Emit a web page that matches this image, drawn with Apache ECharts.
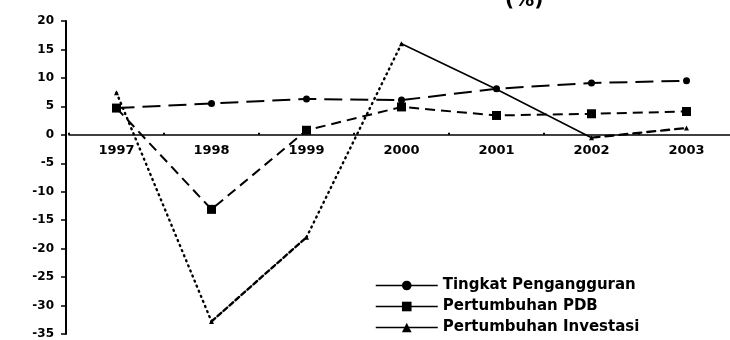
<!DOCTYPE html>
<html>
<head>
<meta charset="utf-8">
<script src="https://cdn.jsdelivr.net/npm/echarts@6/dist/echarts.min.js"></script>
<style>
  html, body { margin: 0; padding: 0; background: #fff; }
  #chart { width: 730px; height: 340px; }
</style>
</head>
<body>
<div id="chart"></div>
<script>
// Years on the horizontal axis
const years = ['1997', '1998', '1999', '2000', '2001', '2002', '2003'];

// Series values (%)
const unemployment = [4.7, 5.5, 6.3, 6.1, 8.1, 9.1, 9.5];
const gdpGrowth = [4.7, -13.1, 0.8, 4.9, 3.4, 3.7, 4.1];
const investmentGrowth = [7.4, -32.8, -18.0, 16.0, 8.0, -0.5, 1.2];

const seriesNames = ['Tingkat Pengangguran', 'Pertumbuhan PDB', 'Pertumbuhan Investasi'];

// Value axis range and step
const yMin = -35, yMax = 20, yStep = 5;

// Stroke pattern of each investment segment between consecutive years
const investmentSegmentDash = [[1, 4.5], [5, 3], [1, 4.5], 'solid', 'solid', [8, 6]];

const FONT = 'DejaVu Sans';
const INK = '#000';

// Plot area
const GRID_TOP = 21, GRID_HEIGHT = 313;
// Distance from the bottom of the plot area up to the zero line
const zeroLift = GRID_HEIGHT * (0 - yMin) / (yMax - yMin);

const chart = echarts.init(document.getElementById('chart'), null, { renderer: 'canvas' });

// One line piece per pair of years, so each piece keeps its own stroke pattern
const investmentSegments = investmentSegmentDash.map((dash, i) => ({
  name: 'investasi-segmen-' + i,
  type: 'line',
  data: investmentGrowth.map((v, j) => (j === i || j === i + 1) ? v : '-'),
  showSymbol: false,
  symbol: 'none',
  silent: true,
  z: 3,
  lineStyle: { color: INK, width: dash === 'solid' ? 1.6 : 2.4, type: dash, cap: 'round' }
}));

chart.setOption({
  animation: false,
  backgroundColor: '#fff',
  title: {
    text: '(%)',
    left: 500,
    top: -14,
    textStyle: { fontFamily: FONT, fontWeight: 'bold', fontSize: 20, color: INK }
  },
  grid: { left: 69, top: GRID_TOP, width: 665, height: GRID_HEIGHT, outerBoundsMode: 'none', containLabel: false },
  xAxis: {
    type: 'category',
    data: years,
    boundaryGap: true,
    position: 'bottom',
    offset: -zeroLift,
    axisLine: { onZero: false, lineStyle: { color: INK, width: 1.5 } },
    axisTick: { show: true, length: 2, inside: true, lineStyle: { color: INK, width: 2 } },
    axisLabel: { margin: 9, fontFamily: FONT, fontWeight: 'bold', fontSize: 13, color: INK },
    splitLine: { show: false }
  },
  yAxis: {
    type: 'value',
    min: yMin,
    max: yMax,
    interval: yStep,
    offset: 3,
    axisLine: { show: true, onZero: false, lineStyle: { color: INK, width: 2 } },
    axisTick: { show: true, length: 5, lineStyle: { color: INK, width: 1.5 } },
    axisLabel: { margin: 12, fontFamily: FONT, fontWeight: 'bold', fontSize: 12, color: INK },
    splitLine: { show: false }
  },
  legend: {
    data: seriesNames,
    orient: 'vertical',
    left: 375,
    top: 278,
    padding: 0,
    itemWidth: 62,
    itemHeight: 12,
    itemGap: 6,
    textStyle: { fontFamily: FONT, fontWeight: 'bold', fontSize: 15, color: INK },
    lineStyle: { type: 'solid', width: 1.5, color: INK, opacity: 1 }
  },
  series: [
    {
      name: seriesNames[0],
      type: 'line',
      data: unemployment,
      symbol: 'circle',
      symbolSize: 7,
      z: 4,
      itemStyle: { color: INK },
      lineStyle: { color: INK, width: 2, type: [18, 8] }
    },
    {
      name: seriesNames[1],
      type: 'line',
      data: gdpGrowth,
      symbol: 'rect',
      symbolSize: 9,
      z: 4,
      itemStyle: { color: INK },
      lineStyle: { color: INK, width: 2, type: [10, 6] }
    },
    {
      name: seriesNames[2],
      type: 'line',
      data: investmentGrowth,
      symbol: 'triangle',
      symbolSize: 5,
      z: 5,
      itemStyle: { color: INK },
      lineStyle: { color: INK, width: 1.5, opacity: 0 }
    },
    ...investmentSegments
  ]
});
</script>
</body>
</html>
